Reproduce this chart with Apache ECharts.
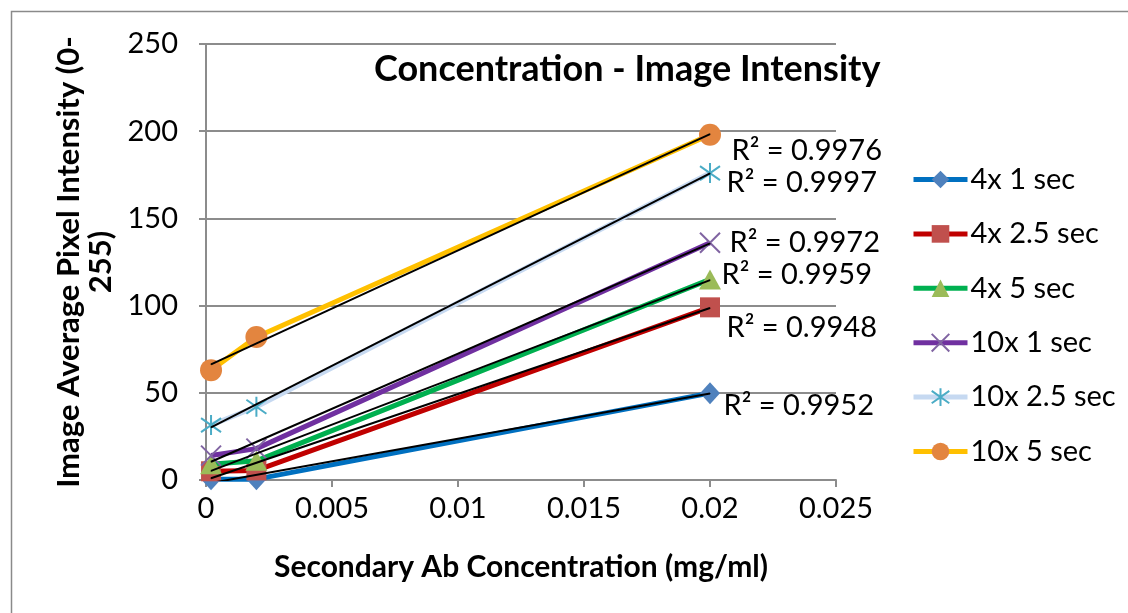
<!DOCTYPE html>
<html>
<head>
<meta charset="utf-8">
<script src="https://cdn.jsdelivr.net/npm/echarts@6/dist/echarts.min.js"></script>
<style>
html,body{margin:0;padding:0;background:#fff;}
#chart{width:1128px;height:613px;}
</style>
</head>
<body>
<div id="chart"></div>
<script>
// ---- data ----
const concentrations = [0.0002, 0.002, 0.02];
const seriesNames = ['4x 1 sec', '4x 2.5 sec', '4x 5 sec', '10x 1 sec', '10x 2.5 sec', '10x 5 sec'];
const s4x1 = [0.5, 0.5, 49.8];
const s4x25 = [5, 5.5, 99];
const s4x5 = [9, 11, 115];
const s10x1 = [14, 18, 136];
const s10x25 = [31.5, 42, 176];
const s10x5 = [63, 82, 198];
const rSquared = ['0.9952', '0.9948', '0.9959', '0.9972', '0.9997', '0.9976'];
const xTicks = [0, 0.005, 0.01, 0.015, 0.02, 0.025];
const yTicks = [0, 50, 100, 150, 200, 250];

const values = [s4x1, s4x25, s4x5, s10x1, s10x25, s10x5];

// ---- styles ----
const FONT = 'Lato, "Open Sans", sans-serif';
const lineColors = ['#0070C0', '#C00000', '#00B050', '#7030A0', '#C6D9F1', '#FFC000'];
const markerColors = ['#4F81BD', '#C0504D', '#9BBB59', '#8064A2', '#4BACC6', '#E3853F'];
const symbols = ['diamond', 'rect', 'triangle',
  'path://M0,0L10,10M10,0L0,10',
  'path://M5,0L5,10M0,1.5L10,8.5M10,1.5L0,8.5',
  'circle'];
const symbolSizes = [[20, 22], 20, [22, 20], 20, 20, 22];
const strokeOnly = [false, false, false, true, true, false];
const labelOffsets = [[13, 12], [16, 20], [11, -5], [19, -1], [16, 9], [21, 17]];

function fit(xs, ys) {
  const n = xs.length;
  let sx = 0, sy = 0, sxx = 0, sxy = 0;
  for (let i = 0; i < n; i++) { sx += xs[i]; sy += ys[i]; sxx += xs[i] * xs[i]; sxy += xs[i] * ys[i]; }
  const b = (n * sxy - sx * sy) / (n * sxx - sx * sx);
  const a = (sy - b * sx) / n;
  return [a, b];
}

const series = [];
values.forEach((vals, i) => {
  series.push({
    name: seriesNames[i],
    type: 'line',
    data: concentrations.map((x, j) => [x, vals[j]]),
    symbol: symbols[i],
    symbolSize: symbolSizes[i],
    lineStyle: { color: lineColors[i], width: 5 },
    itemStyle: strokeOnly[i]
      ? { color: 'rgba(0,0,0,0)', borderColor: markerColors[i], borderWidth: 2 }
      : { color: markerColors[i], borderWidth: 0 },
    emphasis: { disabled: true },
    z: 2 + i * 0.01,
    animation: false
  });
});
values.forEach((vals, i) => {
  const [a, b] = fit(concentrations, vals);
  const x0 = concentrations[0], x1 = concentrations[concentrations.length - 1];
  series.push({
    name: 'trend ' + seriesNames[i],
    type: 'line',
    data: [
      { value: [x0, a + b * x0] },
      { value: [x1, a + b * x1],
        label: { show: true, position: 'right', distance: 0,
          formatter: 'R² = ' + rSquared[i], color: '#000', fontFamily: FONT, fontSize: 29 } }
    ],
    showSymbol: true,
    symbol: 'circle',
    symbolSize: 1,
    itemStyle: { color: '#000' },
    lineStyle: { color: '#000', width: 2 },
    labelLayout: { hideOverlap: false, dx: labelOffsets[i][0], dy: labelOffsets[i][1] },
    silent: true,
    z: 5,
    animation: false
  });
});

const chart = echarts.init(document.getElementById('chart'), null, { renderer: 'canvas' });
chart.setOption({
  animation: false,
  backgroundColor: '#fff',
  textStyle: { fontFamily: FONT },
  title: {
    text: 'Concentration - Image Intensity',
    left: 369, top: 46,
    textStyle: { fontFamily: FONT, fontWeight: 'bold', fontSize: 36, color: '#000' }
  },
  graphic: [{
    type: 'rect', silent: true, z: 100,
    shape: { x: 11.5, y: 11.5, width: 1130, height: 620 },
    style: { fill: 'none', stroke: '#8a8a8a', lineWidth: 1.5 }
  }],
  legend: {
    orient: 'vertical',
    left: 911, top: 165,
    padding: 0,
    data: seriesNames,
    itemWidth: 54, itemHeight: 22,
    itemGap: 25.4,
    selectedMode: false,
    lineStyle: { width: 5 },
    textStyle: { fontFamily: FONT, fontSize: 29, color: '#000', padding: [0, 0, 0, -2] }
  },
  grid: { left: 206, top: 44, width: 630, height: 436, containLabel: false },
  xAxis: {
    type: 'value', min: xTicks[0], max: xTicks[xTicks.length - 1], interval: xTicks[1] - xTicks[0],
    name: 'Secondary Ab Concentration (mg/ml)',
    nameLocation: 'middle', nameGap: 72,
    nameTextStyle: { fontFamily: FONT, fontWeight: 'bold', fontSize: 30, color: '#000' },
    axisLine: { show: true, lineStyle: { color: '#8c8c8c', width: 2 } },
    axisTick: { show: true, length: 7, lineStyle: { color: '#8c8c8c', width: 2 } },
    splitLine: { show: false },
    axisLabel: { fontFamily: FONT, fontSize: 29, color: '#000', margin: 14,
      formatter: v => String(+v.toFixed(3)) }
  },
  yAxis: {
    type: 'value', min: yTicks[0], max: yTicks[yTicks.length - 1], interval: yTicks[1] - yTicks[0],
    name: 'Image Average Pixel Intensity (0-\n255)',
    nameLocation: 'middle', nameRotate: 90, nameGap: 86,
    nameTextStyle: { fontFamily: FONT, fontWeight: 'bold', fontSize: 31, color: '#000', lineHeight: 32, align: 'center' },
    axisLine: { show: true, lineStyle: { color: '#8c8c8c', width: 2 } },
    axisTick: { show: true, length: 7, lineStyle: { color: '#8c8c8c', width: 2 } },
    splitLine: { show: true, lineStyle: { color: '#8c8c8c', width: 2 } },
    axisLabel: { fontFamily: FONT, fontSize: 29, color: '#000', margin: 28 }
  },
  series: series
});
</script>
</body>
</html>
